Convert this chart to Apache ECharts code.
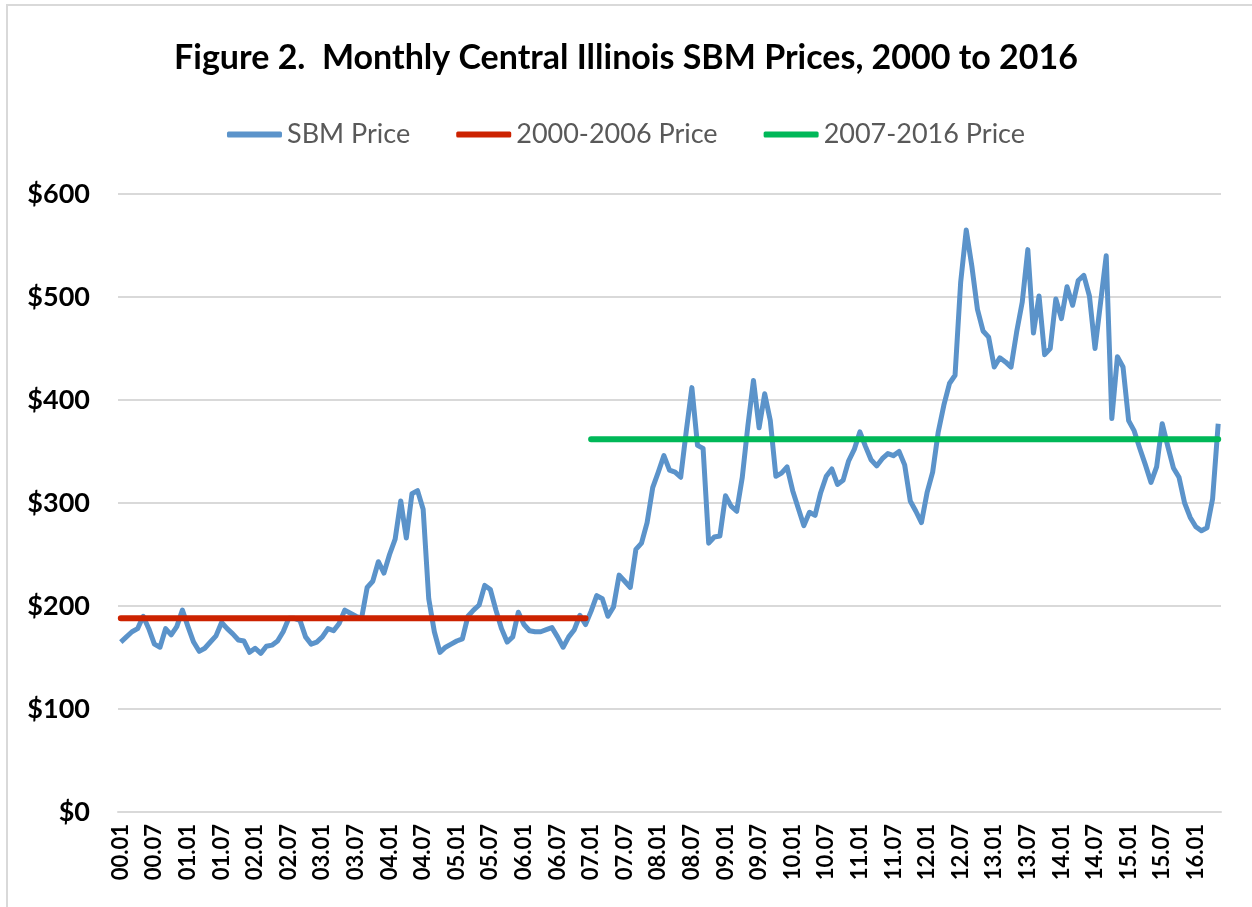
<!DOCTYPE html>
<html>
<head>
<meta charset="utf-8">
<title>Monthly Central Illinois SBM Prices</title>
<script src="https://cdn.jsdelivr.net/npm/echarts@6/dist/echarts.min.js"></script>
<style>
  html, body { margin: 0; padding: 0; background: #fff; }
  #chart { width: 1252px; height: 907px; }
</style>
</head>
<body>
<div id="chart"></div>
<script>
// --- Data ---
const firstYear = 2000;
const monthCount = 197; // 00.01 .. 16.05

// monthly SBM price, $/ton
const sbmPrice = [
  165, 170, 175, 178, 190, 178, 163, 160, 178, 172, 180, 196,
  180, 165, 156, 159, 165, 171, 184, 178, 173, 167, 166, 155,
  159, 154, 161, 162, 166, 175, 188, 188, 186, 170, 163, 165,
  170, 178, 176, 183, 196, 193, 190, 188, 218, 224, 243, 232,
  250, 265, 302, 266, 309, 312, 294, 207, 175, 155, 160, 163,
  166, 168, 190, 196, 201, 220, 216, 196, 178, 165, 170, 194,
  182, 176, 175, 175, 177, 179, 170, 160, 170, 177, 191, 182,
  195, 210, 207, 190, 199, 230, 224, 218, 255, 261, 281, 315,
  330, 346, 332, 330, 325, 370, 412, 356, 353, 261, 267, 268,
  307, 297, 292, 325, 375, 419, 373, 406, 380, 326, 329, 335,
  312, 295, 278, 291, 288, 310, 326, 333, 318, 322, 341, 352,
  369, 355, 342, 336, 343, 348, 346, 350, 337, 302, 292, 281,
  310, 330, 369, 395, 416, 424, 514, 565, 530, 488, 467, 461,
  432, 441, 437, 432, 466, 495, 546, 465, 501, 444, 450, 498,
  479, 510, 492, 516, 521, 501, 450, 495, 540, 382, 442, 432,
  380, 370, 353, 337, 320, 335, 377, 355, 334, 325, 300, 286,
  277, 273, 276, 304, 377
];

// period averages
const avgPrice2000to2006 = 188;
const avgPrice2007to2016 = 362;
const lastMonthOf2006 = 83; // index of 06.12

const yTicks = [0, 100, 200, 300, 400, 500, 600];

// category labels "YY.MM"
const months = [];
for (let i = 0; i < monthCount; i++) {
  const y = (firstYear + Math.floor(i / 12)) % 100;
  const m = (i % 12) + 1;
  months.push(String(y).padStart(2, '0') + '.' + String(m).padStart(2, '0'));
}

const early = months.map((_, i) => (i <= lastMonthOf2006 ? avgPrice2000to2006 : '-'));
const late = months.map((_, i) => (i > lastMonthOf2006 ? avgPrice2007to2016 : '-'));

// --- Chart ---
const chart = echarts.init(document.getElementById('chart'));
const font = 'Lato, "Open Sans", "Liberation Sans", sans-serif';

chart.setOption({
  animation: false,
  backgroundColor: '#fff',
  textStyle: { fontFamily: font },
  graphic: [{
    type: 'rect',
    shape: { x: 7, y: 5, width: 1400, height: 1100 },
    style: { fill: 'none', stroke: '#d9d9d9', lineWidth: 2 },
    silent: true
  }],
  title: {
    text: 'Figure 2.  Monthly Central Illinois SBM Prices, 2000 to 2016',
    left: 'center',
    top: 36,
    textStyle: { fontFamily: font, fontSize: 34, fontWeight: 'bold', color: '#000' }
  },
  legend: {
    top: 116,
    left: 'center',
    icon: 'roundRect',
    itemWidth: 55,
    itemHeight: 6,
    itemGap: 46,
    textStyle: { fontFamily: font, fontSize: 27, color: '#595959' },
    data: ['SBM Price', '2000-2006 Price', '2007-2016 Price']
  },
  grid: { left: 118, right: 31, top: 194, bottom: 95, containLabel: false },
  xAxis: {
    type: 'category',
    data: months,
    boundaryGap: true,
    axisLine: { show: true, lineStyle: { color: '#d9d9d9', width: 2 } },
    axisTick: { show: false },
    axisLabel: {
      interval: 5,
      rotate: 90,
      margin: 12,
      fontFamily: font,
      fontSize: 22,
      fontWeight: 'bold',
      color: '#000'
    },
    splitLine: { show: false }
  },
  yAxis: {
    type: 'value',
    min: yTicks[0],
    max: yTicks[yTicks.length - 1],
    interval: 100,
    axisLine: { show: false },
    axisTick: { show: false },
    axisLabel: {
      margin: 28,
      fontFamily: font,
      fontSize: 27,
      fontWeight: 'bold',
      color: '#000',
      formatter: '${value}'
    },
    splitLine: { lineStyle: { color: '#d9d9d9', width: 2 } }
  },
  series: [
    {
      name: 'SBM Price',
      type: 'line',
      data: sbmPrice,
      symbol: 'none',
      lineStyle: { color: '#5b93ca', width: 5, join: 'round' },
      itemStyle: { color: '#5b93ca' },
      z: 3
    },
    {
      name: '2000-2006 Price',
      type: 'line',
      data: early,
      symbol: 'none',
      lineStyle: { color: '#cc2200', width: 6, cap: 'round' },
      itemStyle: { color: '#cc2200' },
      z: 4
    },
    {
      name: '2007-2016 Price',
      type: 'line',
      data: late,
      symbol: 'none',
      lineStyle: { color: '#00b858', width: 6, cap: 'round' },
      itemStyle: { color: '#00b858' },
      z: 4
    }
  ]
});
</script>
</body>
</html>
